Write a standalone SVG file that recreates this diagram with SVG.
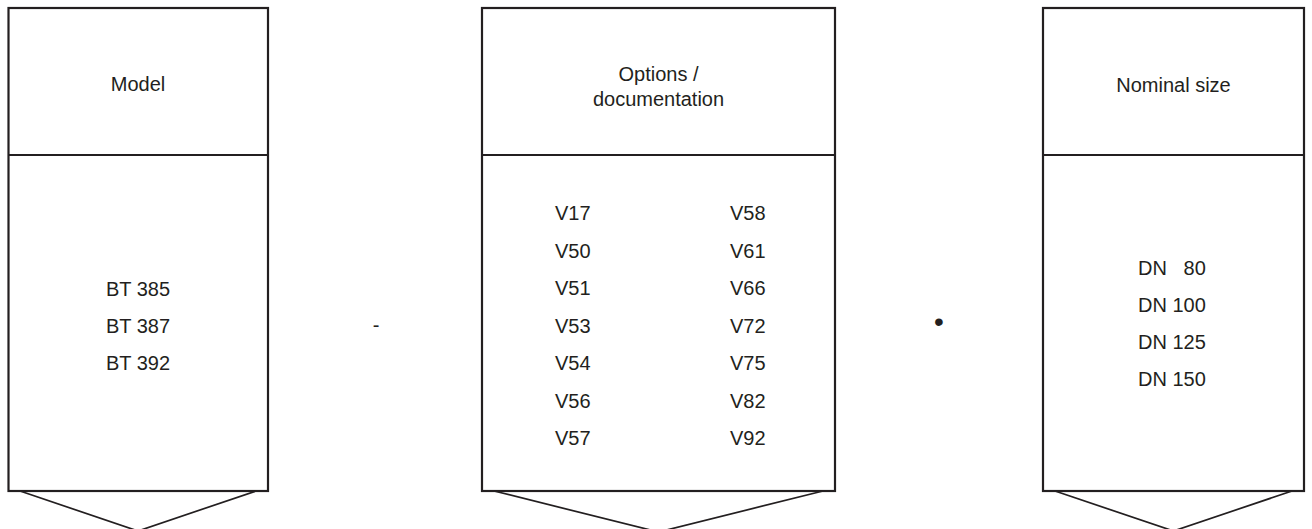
<svg xmlns="http://www.w3.org/2000/svg" width="1312" height="529" viewBox="0 0 1312 529">
<style>
.box{fill:#fff;stroke:#231f20;stroke-width:2.2}
.div{stroke:#231f20;stroke-width:2.2;fill:none}
.tri{stroke:#231f20;stroke-width:1.7;fill:none}
text{font-family:"Liberation Sans",Arial,sans-serif;font-size:20px;fill:#231f20}
.c{text-anchor:middle}
.bul{font-size:28px}
</style>
<rect width="1312" height="529" fill="#fff"/>
<g id="model">
<rect class="box" x="8.5" y="8" width="259.5" height="483"/>
<line class="div" x1="8.5" y1="155" x2="268" y2="155"/>
<polyline class="tri" points="20,491 138,531 256,491"/>
<text class="c" x="138" y="91">Model</text>
<text class="c" x="138" y="296">BT 385</text>
<text class="c" x="138" y="333">BT 387</text>
<text class="c" x="138" y="370">BT 392</text>
</g>
<g id="sep1">
<text class="c" x="376" y="332">-</text>
</g>
<g id="options">
<rect class="box" x="482" y="8" width="353" height="483"/>
<line class="div" x1="482" y1="155" x2="835" y2="155"/>
<polyline class="tri" points="494,491 658.5,532 823,491"/>
<text class="c" x="658.5" y="81">Options /</text>
<text class="c" x="658.5" y="106">documentation</text>
<text x="555" y="220">V17</text>
<text x="555" y="258">V50</text>
<text x="555" y="295">V51</text>
<text x="555" y="333">V53</text>
<text x="555" y="370">V54</text>
<text x="555" y="408">V56</text>
<text x="555" y="445">V57</text>
<text x="730" y="220">V58</text>
<text x="730" y="258">V61</text>
<text x="730" y="295">V66</text>
<text x="730" y="333">V72</text>
<text x="730" y="370">V75</text>
<text x="730" y="408">V82</text>
<text x="730" y="445">V92</text>
</g>
<g id="sep2">
<text class="c bul" x="939" y="331">•</text>
</g>
<g id="size">
<rect class="box" x="1043" y="8" width="261" height="483"/>
<line class="div" x1="1043" y1="155" x2="1304" y2="155"/>
<polyline class="tri" points="1055,491 1173.5,531 1292,491"/>
<text class="c" x="1173.5" y="92">Nominal size</text>
<text x="1138" y="275" xml:space="preserve" style="white-space:pre">DN   80</text>
<text x="1138" y="312">DN 100</text>
<text x="1138" y="349">DN 125</text>
<text x="1138" y="386">DN 150</text>
</g>
<g id="connectors"></g>
</svg>
